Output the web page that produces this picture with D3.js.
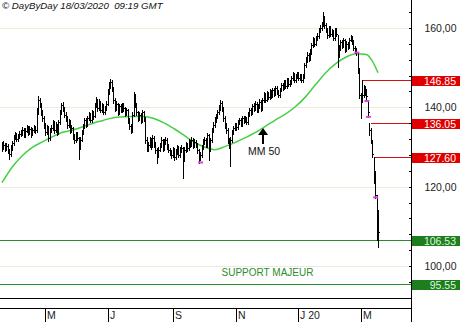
<!DOCTYPE html>
<meta charset="utf-8">
<title>DayByDay</title>
<style>
  body { margin: 0; background: #fff; }
  svg { display: block; font-family: Arial, "Liberation Sans", sans-serif; }
  .bar line { stroke: #000; stroke-width: 1; shape-rendering: crispEdges; }
  .grid line { stroke: #ebebd9; shape-rendering: crispEdges; }
  .ma { fill: none; stroke: #44d044; stroke-width: 1.5; }
  .frame { stroke: #000; shape-rendering: crispEdges; }
  .axis path, .axis line { stroke: #000; shape-rendering: crispEdges; }
  .axis text { font-size: 10.5px; fill: #222; }
  .lvl.resistance line { stroke: #d41010; }
  .lvl.resistance rect { fill: #e00000; }
  .lvl.resistance text { fill: #fff; }
  .lvl.support line { stroke: #2a8a2a; }
  .lvl.support rect { fill: #1e7e1e; }
  .lvl.support text { fill: #dff5df; }
  .lvl text { font-size: 10.5px; }
  .sig { stroke: #e040e0; stroke-width: 2; }
</style>
<body>
<script src="https://d3js.org/d3.v7.min.js"></script>
<script>
// daily bars, 20/03/2019 -> 18/03/2020 (weekdays)
var highs = [
  131.2,131.4,131.0,131.1,130.8,129.6,130.4,131.6,132.9,133.8,
  133.5,133.4,134.0,134.4,135.1,134.8,134.7,135.6,135.2,135.2,
  135.0,134.9,135.5,135.4,139.9,142.9,142.4,141.2,139.3,137.8,
  136.0,135.5,135.2,134.9,135.6,136.9,136.6,136.2,135.9,136.9,
  139.4,141.1,141.3,140.2,138.7,137.8,137.0,136.7,135.5,135.1,
  133.3,133.9,133.8,132.6,132.4,134.4,135.9,137.4,137.3,137.9,
  138.8,138.5,139.3,139.2,141.2,142.6,142.2,142.0,141.7,141.0,
  140.8,140.4,141.6,144.5,146.3,147.2,146.9,145.2,142.3,141.5,
  141.2,140.9,140.8,141.2,141.0,140.2,139.9,139.6,137.2,135.8,
  138.8,143.9,143.4,141.1,139.2,138.7,138.5,139.4,139.1,137.6,
  132.4,131.2,132.5,132.2,132.9,132.7,131.3,129.8,129.9,131.1,
  132.4,132.1,131.9,132.5,132.2,130.8,129.8,129.3,129.9,129.7,
  129.4,130.5,130.2,129.9,130.5,130.1,129.9,131.2,131.0,131.9,
  131.8,132.4,132.2,131.9,131.8,131.0,129.6,128.7,130.4,131.9,
  132.5,132.2,133.6,133.4,132.3,134.9,136.2,137.5,138.4,139.4,
  140.5,141.9,141.5,140.2,137.8,136.0,134.7,132.3,132.4,134.4,
  135.4,136.1,136.0,136.9,137.4,137.2,137.9,137.8,137.7,137.6,
  138.7,139.9,139.9,140.9,141.0,141.5,141.3,140.9,142.0,141.8,
  142.4,143.8,143.5,144.0,143.9,144.5,144.3,145.0,144.9,145.5,
  145.3,144.4,145.0,146.2,146.1,147.0,146.9,147.5,147.3,147.0,
  148.0,148.8,148.6,148.4,149.0,148.9,148.5,148.3,148.3,151.3,
  152.6,153.9,153.8,154.6,156.3,157.7,157.4,158.1,158.7,160.1,
  160.7,161.6,164.0,162.9,161.2,160.0,160.6,160.4,159.7,159.4,
  160.1,159.9,158.2,155.6,157.1,156.9,157.6,157.3,156.6,156.5,
  157.6,158.2,157.9,156.9,155.5,154.9,153.8,149.9,143.6,146.85,
  145.6,145.4,144.5,141.9,136.0,134.8,131.8,127.6,124.0,117.8,
  114.2
];
var lows = [
  129.1,129.6,129.0,129.2,128.6,127.1,127.8,129.3,130.6,131.9,
  131.4,131.6,132.3,132.7,133.0,132.4,132.6,133.7,133.1,133.3,
  132.6,132.9,133.8,133.5,133.9,138.3,140.1,138.1,136.6,134.9,
  133.1,133.2,131.6,131.8,133.8,134.3,133.6,133.9,133.1,133.4,
  135.9,138.3,139.0,137.5,136.6,134.8,135.0,133.6,133.7,132.1,
  131.0,131.3,131.7,127.0,129.4,131.4,133.3,134.9,135.1,135.4,
  136.9,136.2,136.4,137.1,137.5,140.1,139.1,139.4,138.7,138.9,
  138.2,138.3,139.3,140.5,143.4,145.0,144.2,141.2,139.1,139.3,
  138.1,138.4,138.7,138.9,139.1,137.9,138.1,136.1,134.6,133.6,
  133.9,137.7,140.0,138.1,136.6,136.8,136.1,136.4,136.5,131.0,
  128.9,129.1,130.0,129.6,129.9,130.1,128.6,126.0,127.6,128.9,
  130.0,129.1,129.3,130.7,129.6,128.7,128.1,127.2,127.6,126.8,
  127.0,128.3,127.4,127.6,128.8,122.2,126.4,128.8,129.1,129.3,
  130.1,130.3,129.7,129.9,129.9,128.6,126.0,126.6,127.6,129.4,
  130.8,129.9,130.1,126.8,128.9,131.3,133.9,135.0,136.2,137.3,
  138.3,139.3,139.2,136.6,134.9,133.6,131.1,129.8,125.2,131.3,
  133.3,134.3,134.3,134.6,135.9,135.2,135.4,136.0,136.2,135.7,
  135.9,137.7,138.1,138.4,139.1,139.3,138.7,138.8,139.9,139.2,
  139.4,141.4,141.3,141.5,142.0,142.2,142.3,142.5,142.8,143.0,
  143.3,142.5,142.7,144.0,144.3,144.5,144.8,145.0,145.3,145.5,
  145.9,146.9,146.3,146.4,147.4,146.9,146.9,146.3,146.4,147.3,
  150.2,151.4,151.8,151.9,153.5,155.2,155.4,155.6,157.0,157.6,
  159.0,159.5,160.6,160.1,158.9,157.6,157.8,157.9,158.0,156.9,
  157.1,157.9,150.2,152.8,154.5,154.9,155.1,153.9,154.1,154.6,
  154.9,156.6,155.9,154.4,153.8,153.3,148.7,142.4,137.3,141.4,
  142.6,143.2,142.2,137.6,133.0,131.0,127.6,121.0,117.2,106.6,
  104.8
];
var closes = [
  130.0,130.5,129.8,130.3,129.3,128.3,129.8,131.0,132.3,133.0,
  132.0,132.8,133.3,133.6,134.3,133.0,134.1,134.8,133.8,134.6,
  133.3,134.3,134.8,134.3,138.8,141.9,140.9,138.8,137.3,135.5,
  133.8,134.8,132.3,134.3,134.8,136.3,134.3,135.5,133.8,136.3,
  138.8,140.6,139.8,138.1,137.3,135.5,136.3,134.3,134.8,132.8,
  131.8,133.3,132.3,129.8,131.8,133.8,135.3,136.8,135.8,137.3,
  138.1,136.8,138.8,137.8,140.6,141.9,139.8,141.4,139.3,140.4,
  138.8,139.8,140.9,143.9,145.6,146.4,144.9,141.9,139.8,140.9,
  138.8,140.4,139.3,140.6,139.8,138.6,139.3,136.8,135.3,134.3,
  138.1,142.9,140.6,138.8,137.3,138.1,136.8,138.8,137.3,131.8,
  129.8,130.5,131.8,130.3,132.3,130.8,129.3,128.0,129.3,130.5,
  131.8,129.8,131.3,131.8,130.3,129.3,128.8,128.0,129.3,127.5,
  128.8,129.8,128.0,129.3,129.8,126.8,129.3,130.5,129.8,131.3,
  130.8,131.8,130.3,131.3,130.5,129.3,127.2,128.0,129.8,131.3,
  131.8,130.5,133.0,129.3,131.8,134.3,135.5,136.8,137.8,138.8,
  139.8,141.1,139.8,137.3,135.5,134.3,131.8,130.5,131.8,133.8,
  134.8,135.5,135.0,136.3,136.8,135.8,137.3,136.6,137.1,136.3,
  138.1,139.3,138.8,140.4,139.8,140.9,139.3,140.4,141.4,139.8,
  141.9,143.1,141.9,143.4,142.6,143.9,142.9,144.4,143.4,144.9,
  143.9,143.1,144.4,145.6,144.9,146.4,145.4,146.9,145.9,146.4,
  147.4,148.2,146.9,147.9,148.4,147.4,147.9,146.9,147.7,150.7,
  151.9,153.2,152.4,154.0,155.7,157.0,156.0,157.5,158.0,159.5,
  160.0,161.0,162.5,160.8,159.5,158.2,160.0,158.5,159.0,157.5,
  159.5,158.5,153.2,155.0,156.5,155.5,157.0,154.5,156.0,155.2,
  157.0,157.5,156.5,155.0,154.5,154.0,149.4,143.1,141.9,143.1,
  144.9,143.9,142.9,138.8,134.3,131.8,128.2,122.5,118.0,110.2,
  108.6
];

// 50-day moving average, read at these bar positions
var maIdx = [0,7,14,21,28,35,42,49,56,63,70,77,84,91,98,105,112,119,126,133,
  140,147,154,161,168,175,182,189,196,203,210,217,224,231,238,245,252,256,260];
var maVal = [121.0,124.9,127.8,129.9,131.3,132.6,133.7,134.3,135.1,136.0,136.7,137.4,
  137.6,137.7,137.7,137.2,136.1,134.6,132.9,131.2,130.0,129.3,130.1,131.1,132.3,
  133.6,135.2,136.8,138.3,140.2,142.7,145.8,148.8,151.1,152.7,153.5,153.3,151.7,148.7];

var monthLabels = ["M", "J", "S", "N", "J 20", "M"];
var monthDates = ["2019-05-01", "2019-07-01", "2019-09-02", "2019-11-01", "2020-01-01", "2020-03-02"];

var levelVals = [146.85, 136.05, 127.60, 106.53, 95.55];
var levelFrom = [249, 255, 257, 0, 0];
var levelType = ["resistance", "resistance", "resistance", "support", "support"];

var sigIdx = [137, 245, 252, 253, 258];
var sigVal = [126.1, 153.8, 141.6, 137.6, 117.3];

var yGrid = [100, 120, 140, 160];

var W = 460, H = 322, axisX = 411;
var parseDate = d3.timeParse("%Y-%m-%d");
var dates = d3.timeDay.range(parseDate("2019-03-20"), parseDate("2020-03-19"))
  .filter(function(d) { return d.getDay() % 6 !== 0; });

var x = d3.scaleLinear().domain([0, dates.length - 1]).range([2, 378]);
var y = d3.scaleLinear().domain([100, 160]).range([266, 28]);

var svg = d3.select("body").append("svg").attr("width", W).attr("height", H);

svg.append("g").attr("class", "grid").selectAll("line").data(yGrid).enter().append("line")
  .attr("x1", 0).attr("x2", axisX)
  .attr("y1", function(d) { return Math.round(y(d)) + 0.5; })
  .attr("y2", function(d) { return Math.round(y(d)) + 0.5; });

// support / resistance levels
var lvl = svg.append("g").selectAll("g").data(levelVals).enter().append("g")
  .attr("class", function(d, i) { return "lvl " + levelType[i]; });
lvl.append("line")
  .attr("x1", function(d, i) { return levelType[i] === "support" ? 0 : Math.round(x(levelFrom[i])); })
  .attr("x2", axisX)
  .attr("y1", function(d) { return Math.round(y(d)) + 0.5; })
  .attr("y2", function(d) { return Math.round(y(d)) + 0.5; });

// moving average
svg.append("path").datum(maIdx).attr("class", "ma")
  .attr("d", d3.line().curve(d3.curveMonotoneX)
    .x(function(d) { return x(d); })
    .y(function(d, i) { return y(maVal[i]); }));

// bars
var bars = svg.append("g").attr("class", "bar").selectAll("g").data(closes).enter().append("g");
bars.append("line")
  .attr("x1", function(d, i) { return Math.round(x(i)) + 0.5; })
  .attr("x2", function(d, i) { return Math.round(x(i)) + 0.5; })
  .attr("y1", function(d, i) { return Math.round(y(highs[i])); })
  .attr("y2", function(d, i) { return Math.round(y(lows[i])) + 1; });
bars.append("line")
  .attr("x1", function(d, i) { return Math.round(x(i)) + 1; })
  .attr("x2", function(d, i) { return Math.round(x(i)) + 2; })
  .attr("y1", function(d) { return Math.round(y(d)) + 0.5; })
  .attr("y2", function(d) { return Math.round(y(d)) + 0.5; });

svg.append("g").selectAll("line").data(sigIdx).enter().append("line")
  .attr("class", "sig")
  .attr("x1", function(d) { return x(d) - 2; })
  .attr("x2", function(d) { return x(d) + 3; })
  .attr("y1", function(d, i) { return y(sigVal[i]); })
  .attr("y2", function(d, i) { return y(sigVal[i]); });

// right price axis
var fmt = d3.format(".2f");
var yAxis = d3.axisRight(y)
  .tickValues(d3.range(96, 168, 4))
  .tickSizeInner(-3).tickSizeOuter(0).tickPadding(0)
  .tickFormat(function(d) { return d % 20 === 0 ? fmt(d).replace(".", ",") : ""; });
var ya = svg.append("g").attr("class", "axis").attr("transform", "translate(" + (axisX + 0.5) + ",0)").call(yAxis);
ya.select(".domain").remove();
ya.selectAll("text").attr("x", 45).attr("text-anchor", "end");
svg.append("line").attr("class", "frame").attr("x1", axisX + 0.5).attr("x2", axisX + 0.5).attr("y1", 0).attr("y2", H);

lvl.append("rect")
  .attr("x", axisX + 1).attr("width", W - axisX - 1)
  .attr("y", function(d) { return Math.round(y(d)) - 4; }).attr("height", 10);
lvl.append("text")
  .attr("x", 456).attr("text-anchor", "end")
  .attr("y", function(d) { return Math.round(y(d)) + 5; })
  .text(function(d) { return fmt(d); });

// time axis
svg.append("line").attr("class", "frame").attr("x1", 0).attr("x2", axisX).attr("y1", 298.5).attr("y2", 298.5);
svg.append("line").attr("class", "frame").attr("x1", 0).attr("x2", axisX).attr("y1", 308.5).attr("y2", 308.5);
var mIdx = monthDates.map(function(s) {
  var t = +parseDate(s);
  return dates.findIndex(function(d) { return +d === t; });
});
var mt = svg.append("g").selectAll("g").data(mIdx).enter().append("g")
  .attr("transform", function(d) { return "translate(" + (Math.round(x(d)) + 0.5) + ",0)"; });
mt.append("line").attr("class", "frame").attr("y1", 309).attr("y2", H);
mt.append("text").attr("x", 1.5).attr("y", 319).style("font-size", "10.5px").attr("fill", "#222")
  .text(function(d, i) { return monthLabels[i]; });

// annotations
var ax = x(180.5), ay = y(134.8);
svg.append("path").attr("fill", "#000")
  .attr("d", "M" + ax + "," + ay + "l5,7h-10z");
svg.append("line").attr("class", "frame").attr("stroke-width", 1.5)
  .attr("x1", ax).attr("x2", ax).attr("y1", ay + 6).attr("y2", ay + 16);
svg.append("text").attr("x", ax + 1).attr("y", ay + 27).attr("text-anchor", "middle")
  .style("font-size", "10.5px").attr("fill", "#111").text("MM 50");

svg.append("text").attr("x", x(183.6)).attr("y", y(97.6)).attr("text-anchor", "middle")
  .style("font-size", "10px").attr("fill", "#2e8b2e")
  .text("SUPPORT MAJEUR");

svg.append("text").attr("x", 2).attr("y", 9).style("font-size", "9.7px").style("font-style", "italic")
  .attr("fill", "#111").text("\u00a9 DayByDay 18/03/2020  09:19 GMT")
  .style("white-space", "pre");
</script>
</body>
